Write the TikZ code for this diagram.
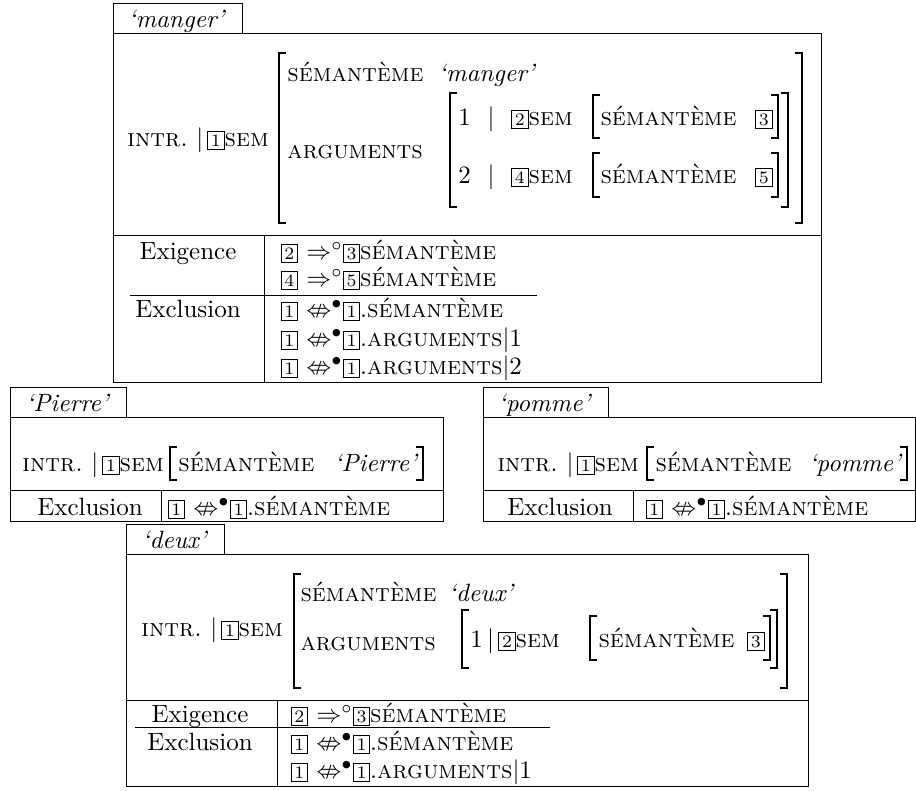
\documentclass[tikz,border=0pt]{standalone}
\usepackage{amsmath,amssymb}
\usetikzlibrary{positioning}
% boxed index
\newcommand\bnum[1]{{\setlength{\fboxsep}{1.1pt}\setlength{\fboxrule}{0.4pt}\fbox{\scriptsize #1}}}
% square brackets of the matrices
\newcommand\lbrk[3]{\draw[brk] (#1+7,#2) -- (#1,#2) -- (#1,#3) -- (#1+7,#3);}
\newcommand\rbrk[3]{\draw[brk] (#1-7,#2) -- (#1,#2) -- (#1,#3) -- (#1-7,#3);}
\newcommand\sem{\textsc{sémantème}}
\newcommand\intr{\textsc{intr.}\ $|$\kern1.5pt\bnum{1}\textsc{sem}}
\newcommand\excl{\bnum{1} $\nLeftrightarrow^{\bullet}$\bnum{1}.}
\begin{document}
\begin{tikzpicture}[x=0.4pt,y=-0.4pt,
  frame/.style={line width=0.4pt},
  brk/.style={line width=0.75pt},
  txt/.style={inner sep=0pt,text height=1.5ex,text depth=0pt},
  lft/.style={txt,anchor=west},
  rgt/.style={txt,anchor=east}]
\useasboundingbox (0,0) rectangle (916,791);

% ---- 'manger'
\draw[frame] (113,4) rectangle (242,34);
\node[txt] (mgtab) at (177,19) {\textit{`manger'}};
\draw[frame] (113,34) rectangle (821,383);
\draw[frame] (113,236) -- (821,236);
\draw[frame] (264,236) -- (264,383);
\draw[frame] (130,296) -- (537,296);
\node[lft] (mgintr) at (127,138) {\intr};
\lbrk{279}{53}{223}
\rbrk{802}{53}{223}
\node[lft] (mgsem) at (287,73) {\sem};
\node[lft] (mgval) at (438,73) {\textit{`manger'}};
\node[lft] (mgarg) at (287,150) {\textsc{arguments}};
\lbrk{450}{93}{207}
\rbrk{788}{93}{207}
\node[lft] (mgone) at (458,117) {1\ \ $|$\ \ \bnum{2}\textsc{sem}};
\node[lft] (mgtwo) at (458,175) {2\ \ $|$\ \ \bnum{4}\textsc{sem}};
\lbrk{593}{95}{138}
\rbrk{778}{95}{138}
\lbrk{593}{153}{197}
\rbrk{778}{153}{197}
\node[lft] (mgsemi) at (600,117) {\sem};
\node[rgt] (mgthree) at (773,117) {\bnum{3}};
\node[lft] (mgsemii) at (600,175) {\sem};
\node[rgt] (mgfive) at (773,175) {\bnum{5}};
\node[txt] (mgexig) at (188,251) {Exigence};
\node[txt] (mgexcl) at (188,309) {Exclusion};
\node[lft] (mgra) at (280,251) {\bnum{2} $\Rightarrow^{\circ}$\bnum{3}\sem};
\node[lft] (mgrb) at (280,278) {\bnum{4} $\Rightarrow^{\circ}$\bnum{5}\sem};
\node[lft] (mgrc) at (280,309) {\excl\sem};
\node[lft] (mgrd) at (280,338) {\excl\textsc{arguments}$|$1};
\node[lft] (mgre) at (280,366) {\excl\textsc{arguments}$|$2};

% ---- 'Pierre'
\draw[frame] (10,388) rectangle (126,418);
\node[txt] (pitab) at (68,403) {\textit{`Pierre'}};
\draw[frame] (10,418) rectangle (443,522);
\draw[frame] (10,491) -- (443,491);
\draw[frame] (161,491) -- (161,522);
\node[lft] (piintr) at (22,463) {\intr};
\lbrk{170}{447}{480}
\rbrk{423}{447}{480}
\node[lft] (pisem) at (178,463) {\sem};
\node[rgt] (pival) at (419,463) {\textit{`Pierre'}};
\node[txt] (piexcl) at (90,507) {Exclusion};
\node[lft] (pira) at (167,507) {\excl\sem};

% ---- 'pomme'
\draw[frame] (483,388) rectangle (608,418);
\node[txt] (potab) at (545,403) {\textit{`pomme'}};
\draw[frame] (483,418) rectangle (915,522);
\draw[frame] (483,491) -- (915,491);
\draw[frame] (633,491) -- (633,522);
\node[lft] (pointr) at (497,463) {\intr};
\lbrk{647}{447}{480}
\rbrk{907}{447}{480}
\node[lft] (posem) at (655,463) {\sem};
\node[rgt] (poval) at (903,463) {\textit{`pomme'}};
\node[txt] (poexcl) at (560,507) {Exclusion};
\node[lft] (pora) at (645,507) {\excl\sem};

% ---- 'deux'
\draw[frame] (126,525) rectangle (224,555);
\node[txt] (detab) at (175,540) {\textit{`deux'}};
\draw[frame] (126,555) rectangle (808,787);
\draw[frame] (126,701) -- (808,701);
\draw[frame] (277,701) -- (277,787);
\draw[frame] (135,728) -- (550,728);
\node[lft] (deintr) at (141,628) {\intr};
\lbrk{294}{574}{688}
\rbrk{787}{574}{688}
\node[lft] (desem) at (300,593) {\sem};
\node[lft] (deval) at (448,593) {\textit{`deux'}};
\node[lft] (dearg) at (300,642) {\textsc{arguments}};
\lbrk{462}{610}{668}
\rbrk{777}{610}{668}
\node[lft] (deone) at (470,639) {1$\,|\,$\bnum{2}\textsc{sem}};
\lbrk{590}{616}{660}
\rbrk{770}{616}{660}
\node[lft] (desemi) at (598,639) {\sem};
\node[rgt] (dethree) at (765,639) {\bnum{3}};
\node[txt] (deexig) at (200,714) {Exigence};
\node[txt] (deexcl) at (200,742) {Exclusion};
\node[lft] (dera) at (290,714) {\bnum{2} $\Rightarrow^{\circ}$\bnum{3}\sem};
\node[lft] (derb) at (290,742) {\excl\sem};
\node[lft] (derc) at (290,770) {\excl\textsc{arguments}$|$1};
\end{tikzpicture}
\end{document}
